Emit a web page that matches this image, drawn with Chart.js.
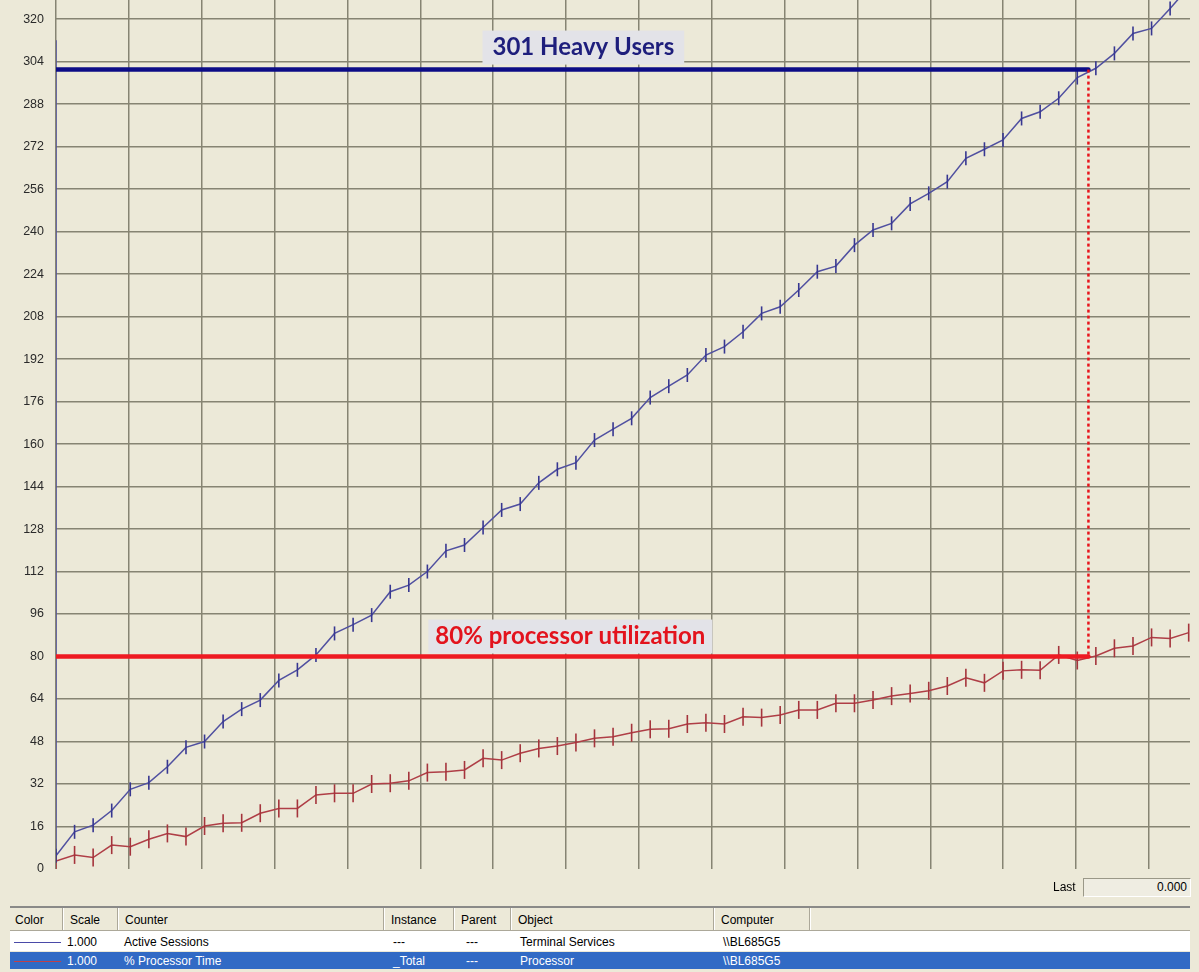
<!DOCTYPE html>
<html>
<head>
<meta charset="utf-8">
<script src="https://cdn.jsdelivr.net/npm/chart.js@4/dist/chart.umd.min.js"></script>
<style>
html,body{margin:0;padding:0;background:#ECE9D8;}
body{width:1199px;height:972px;position:relative;overflow:hidden;font-family:"Liberation Sans",Arial,sans-serif;font-size:12px;color:#000;}
#wrap{position:absolute;left:0;top:0;width:1199px;height:905px;}
#lastLbl{position:absolute;left:1053px;top:880px;font-size:12px;}
#lastBox{position:absolute;left:1083px;top:878px;width:103px;height:17px;border-top:1px solid #9a9888;border-left:1px solid #9a9888;border-right:1px solid #fff;border-bottom:1px solid #fff;background:#EFEDE2;text-align:right;padding-right:3px;line-height:17px;}
#hdr{position:absolute;left:10px;top:906px;width:1180px;height:22px;border-top:2px solid #8a8a88;border-bottom:1px solid #aca899;background:#ECE9D8;}
.sep{position:absolute;top:0;width:1px;height:22px;background:#aca899;border-right:1px solid #fff;}
.cell{position:absolute;white-space:nowrap;}
.hc{top:5px;}
#row1{position:absolute;left:10px;top:931px;width:1180px;height:20px;background:#fff;}
#row2{position:absolute;left:10px;top:952px;width:1180px;height:17px;background:#316AC5;color:#fff;}
.rc{top:4px;}
#row2 .rc{top:2px;}
.sw{position:absolute;height:1px;}
</style>
</head>
<body>
<div id="wrap"><canvas id="c" width="1199" height="905"></canvas></div>
<div id="lastLbl">Last</div>
<div id="lastBox">0.000</div>
<div id="hdr"></div>
<div id="row1"></div>
<div id="row2"></div>
<script>
// ---------------- data ----------------
const activeSessions = [5, 14, 16.5, 22, 30, 32.5, 38.5, 45.8, 48, 55.5,
  60.2, 63.6, 71, 75, 80.6, 88.7, 92, 95.6, 104.4, 106.9,
  112, 119.8, 122, 128.6, 135.2, 137.4, 145.4, 150.5, 153, 161.5,
  165.6, 169.7, 177.5, 181.8, 186, 193.5, 196.7, 202.3, 209.2, 211.7,
  218, 224.9, 227, 234.9, 240.6, 243.1, 250.4, 254.4, 258.8, 267.6,
  271, 274.5, 282.6, 285.1, 290.2, 298, 301.5, 307.1, 314.6, 316.5,
  324, 332];
const processorTime = [3, 5.3, 4.3, 9, 8.4, 11.2, 13.4, 12.2, 16.2, 17.2,
  17.4, 21, 22.8, 22.8, 27.9, 28.5, 28.5, 32, 32.3, 33.2,
  36.3, 36.6, 37.3, 41.7, 41, 43.6, 45.4, 46.3, 47.6, 49.2,
  49.8, 51.3, 52.6, 52.8, 54.6, 55.1, 54.6, 57.3, 57, 58,
  59.9, 59.9, 62.4, 62.4, 63.6, 65.1, 66.1, 67.1, 68.9, 72,
  70.1, 74.6, 75, 74.8, 80.6, 78.5, 80.2, 83.1, 84, 87.2,
  86.8, 89];
const sessionsWrapValue = 312;      // trace wrap line at the left edge
const yTickStep = 16;
const yMax = 327.2;
const xMax = 61.07;                 // samples visible
const samplesPerGridLine = 3.924;
const heavyUsers = 301;
const cpuThreshold = 80;
const crossingSample = 55.6;
const heavyLabel = '301 Heavy Users';
const cpuLabel = '80% processor utilization';
const heavyLabelAt = 28.4;
const cpuLabelAt = 27.7;

const tableHeaders = ['Color','Scale','Counter','Instance','Parent','Object','Computer'];
const tableRows = [
  ['1.000','Active Sessions','---','---','Terminal Services','\\\\BL685G5'],
  ['1.000','% Processor Time','_Total','---','Processor','\\\\BL685G5']
];

// ---------------- table (HTML text) ----------------
const colLefts = [0, 53, 108, 374, 444, 501, 704, 800];
const hdr = document.getElementById('hdr');
colLefts.slice(1).forEach(l => { const s = document.createElement('div'); s.className='sep'; s.style.left=(l-1)+'px'; hdr.appendChild(s); });
tableHeaders.forEach((t,i) => { const d=document.createElement('div'); d.className='cell hc'; d.style.left=(colLefts[i]+ (i===0?5:7))+'px'; d.textContent=t; hdr.appendChild(d); });
const rowEls = [document.getElementById('row1'), document.getElementById('row2')];
const swColors = ['#4a4aa8', '#c0404a'];
rowEls.forEach((el, r) => {
  const sw = document.createElement('div'); sw.className='sw'; sw.style.left='4px'; sw.style.width='47px'; sw.style.top=(r===0?11:9)+'px'; sw.style.background=swColors[r]; el.appendChild(sw);
  const offs = [57, 114, 383, 456, 510, 713];
  tableRows[r].forEach((t,i) => { const d=document.createElement('div'); d.className='cell rc'; d.style.left=offs[i]+'px'; d.textContent=t; el.appendChild(d); });
});

// ---------------- chart ----------------
const gridColor = '#868473';
const sessionsPoints = [{x:0, y:sessionsWrapValue}].concat(activeSessions.map((v,i)=>({x:i, y:v})));
const cpuPoints = processorTime.map((v,i)=>({x:i, y:v}));

const labelPlugin = {
  id: 'labels',
  afterDatasetsDraw(chart) {
    const {ctx, scales:{x, y}} = chart;
    function box(text, xv, yv, color, padX, h, gap) {
      ctx.save();
      ctx.font = 'bold 24px Lato, "Open Sans", sans-serif';
      const w = ctx.measureText(text).width;
      const cx = x.getPixelForValue(xv);
      const bottom = y.getPixelForValue(yv) - gap;
      ctx.fillStyle = '#E3E3E8';
      ctx.fillRect(cx - w/2 - padX, bottom - h, w + 2*padX, h);
      ctx.fillStyle = color;
      ctx.textAlign = 'center';
      ctx.textBaseline = 'middle';
      ctx.fillText(text, cx, bottom - h/2);
      ctx.restore();
    }
    box(heavyLabel, heavyLabelAt, heavyUsers, '#1e1e7c', 10, 34, 5);
    box(cpuLabel, cpuLabelAt, cpuThreshold, '#e3131d', 7, 34, 3);
  }
};

new Chart(document.getElementById('c'), {
  type: 'line',
  data: {
    datasets: [
      { data: [{x:crossingSample, y:heavyUsers},{x:crossingSample, y:cpuThreshold}], borderColor:'#e8141c', borderWidth:2.5, borderDash:[3,3], pointRadius:0 },
      { data: [{x:0, y:heavyUsers},{x:crossingSample, y:heavyUsers}], borderColor:'#0c0c86', borderWidth:4.5, borderCapStyle:'round', pointRadius:0 },
      { data: [{x:0, y:cpuThreshold},{x:crossingSample, y:cpuThreshold}], borderColor:'#ee1a22', borderWidth:4.5, borderCapStyle:'round', pointRadius:0 },
      { data: sessionsPoints, borderColor:'rgb(80,80,160)', borderWidth:1.5,
        pointStyle:'line', rotation:90, pointRadius: c => c.dataIndex === 0 ? 0 : 7,
        pointBorderColor:'rgb(55,55,145)', pointBorderWidth:1.6, pointBackgroundColor:'rgb(55,55,145)' },
      { data: cpuPoints, borderColor:'rgb(175,62,70)', borderWidth:1.5,
        pointStyle:'line', rotation:90, pointRadius:9,
        pointBorderColor:'rgb(165,52,60)', pointBorderWidth:1.6, pointBackgroundColor:'rgb(165,52,60)' }
    ]
  },
  options: {
    responsive:false, animation:false, devicePixelRatio:1,
    layout:{autoPadding:false, padding:{left:0, right:9, top:0, bottom:36}},
    elements:{line:{tension:0}},
    plugins:{legend:{display:false}, tooltip:{enabled:false}},
    scales:{
      x:{ type:'linear', min:0, max:xMax,
        ticks:{display:false},
        grid:{color:gridColor, lineWidth:1.5, drawTicks:false},
        border:{display:false},
        afterBuildTicks: s => { const t=[]; for(let k=0; k*samplesPerGridLine<=xMax; k++) t.push({value:k*samplesPerGridLine}); s.ticks=t; },
        afterFit: s => { s.height=0; s.paddingLeft=0; s.paddingRight=0; }
      },
      y:{ min:0, max:yMax,
        ticks:{stepSize:yTickStep, color:'#2a2a2a', font:{family:'"Liberation Sans", Arial, sans-serif', size:12.5}, padding:12},
        grid:{color: c => c.tick && c.tick.value === 0 ? 'rgba(0,0,0,0)' : gridColor, lineWidth:1.5, drawTicks:false},
        border:{display:false},
        afterBuildTicks: s => { s.ticks = s.ticks.filter(t => Math.abs(t.value % yTickStep) < 1e-6); },
        afterFit: s => { s.width=56; s.paddingTop=0; s.paddingBottom=0; }
      }
    }
  },
  plugins:[labelPlugin]
});
</script>
</body>
</html>
